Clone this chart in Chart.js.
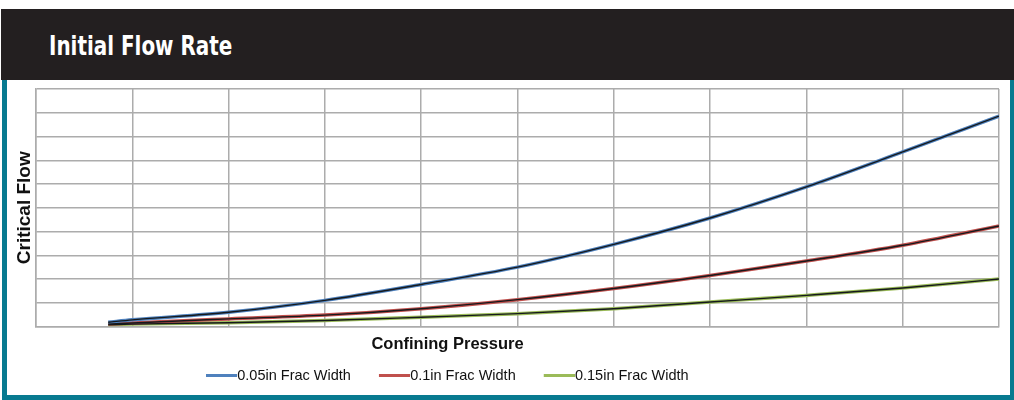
<!DOCTYPE html>
<html>
<head>
<meta charset="utf-8">
<script src="https://cdn.jsdelivr.net/npm/chart.js@4.4.0/dist/chart.umd.min.js"></script>
<style>
  body { margin: 0; width: 1014px; height: 400px; background: #fff; position: relative; overflow: hidden; }
  #head { position: absolute; left: 1px; top: 9px; width: 1013px; height: 71px; background: #231f20; }
  #head span { position: absolute; left: 48px; top: 23px; color: #fff; font: bold 27px/27px "DejaVu Sans Condensed", "DejaVu Sans"; transform: scaleX(0.82); transform-origin: 0 0; white-space: nowrap; }
  #frame { position: absolute; left: 2px; top: 80px; width: 1003px; height: 315px; border-left: 5px solid #077a90; border-right: 4px solid #077a90; border-bottom: 5px solid #077a90; }
  #chart { position: absolute; left: 0; top: 80px; }
</style>
</head>
<body>
<div id="head"><span>Initial Flow Rate</span></div>
<div id="frame"></div>
<canvas id="chart" width="1014" height="313"></canvas>
<script>
// confining pressure positions (grid units) and critical flow
const pressure = [0.75, 1, 2, 3, 4, 5, 6, 7, 8, 9, 10]
const width005 = [0.18, 0.28, 0.6, 1.1, 1.77, 2.5, 3.46, 4.57, 5.88, 7.35, 8.86]
const width01 = [0.1, 0.15, 0.32, 0.48, 0.75, 1.13, 1.6, 2.15, 2.76, 3.42, 4.23]
const width015 = [0.07, 0.1, 0.16, 0.25, 0.39, 0.54, 0.75, 1.03, 1.31, 1.62, 2.0]
const seriesNames = ['0.05in Frac Width', '0.1in Frac Width', '0.15in Frac Width']
const seriesColors = ['#4f81bd', '#c0504d', '#9bbb59']

const gridColor = '#acacac'

let toPoints = function(vals) {
    return vals.map((v, i) => ({x: pressure[i], y: v}))
}

// legend swatch: a short line that ends right where the label starts
let swatch = function(color) {
    let c = document.createElement('canvas')
    c.width = 53
    c.height = 3
    let g = c.getContext('2d')
    g.fillStyle = color
    g.fillRect(22, 0, 31, 3)
    return c
}

let allValues = [width005, width01, width015]
let datasets = []
allValues.forEach((vals, i) => {
    datasets.push({
        label: seriesNames[i],
        data: toPoints(vals),
        borderColor: seriesColors[i],
        backgroundColor: seriesColors[i],
        borderWidth: 3.5,
        pointRadius: 0,
        pointStyle: swatch(seriesColors[i]),
        cubicInterpolationMode: 'monotone',
        order: 1
    })
})
// the dark core line seen on top of each coloured curve
allValues.forEach((vals, i) => {
    datasets.push({
        label: 'core' + i,
        data: toPoints(vals),
        borderColor: '#15191c',
        borderWidth: 1.4,
        pointRadius: 0,
        cubicInterpolationMode: 'monotone',
        order: 0
    })
})

Chart.defaults.font.family = '"Liberation Sans", Arial, sans-serif'
Chart.defaults.color = '#111'

// legend and x title sit left of the plot centre in the original
const shiftLegend = {
    id: 'shiftLegend',
    afterLayout(chart) {
        chart.legend.left = 178
        let xs = chart.scales.x
        if (!xs._shifted) {
            let orig = xs.drawTitle
            xs.drawTitle = function() {
                this.ctx.save()
                this.ctx.translate(-70, 0)
                orig.call(this)
                this.ctx.restore()
            }
            xs._shifted = true
        }
    }
}

new Chart(document.getElementById('chart').getContext('2d'), {
    type: 'line',
    data: { datasets: datasets },
    plugins: [shiftLegend],
    options: {
        responsive: false,
        animation: false,
        devicePixelRatio: 1,
        layout: { padding: { left: 0, top: 9, right: 15, bottom: 0 } },
        plugins: {
            tooltip: { enabled: false },
            legend: {
                position: 'bottom',
                align: 'start',
                labels: {
                    filter: item => item.datasetIndex < 3,
                    usePointStyle: true,
                    pointStyleWidth: 39,
                    padding: 13,
                    font: { size: 14.5 },
                    color: '#111'
                }
            }
        },
        scales: {
            x: {
                type: 'linear',
                min: 0,
                max: 10,
                afterFit: s => { s.height = 29 },
                ticks: { display: false, stepSize: 1 },
                grid: { color: gridColor, lineWidth: 1.5, drawTicks: false },
                border: { color: gridColor, width: 1.5 },
                title: {
                    display: true,
                    text: 'Confining Pressure',
                    font: { size: 16.5, weight: 'bold' },
                    padding: { top: 0, bottom: 1 }
                }
            },
            y: {
                min: 0,
                max: 10,
                afterFit: s => { s.width = 36 },
                ticks: { display: false, stepSize: 1 },
                grid: { color: gridColor, lineWidth: 1.5, drawTicks: false },
                border: { color: gridColor, width: 1.5 },
                title: {
                    display: true,
                    text: 'Critical Flow',
                    font: { size: 19, weight: 'bold' },
                    padding: { top: 13.6, bottom: 0 }
                }
            }
        }
    }
})
</script>
</body>
</html>
